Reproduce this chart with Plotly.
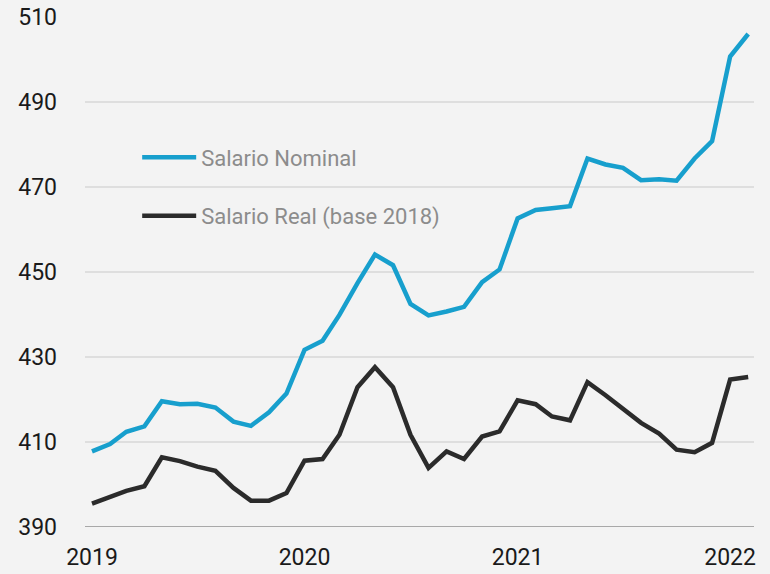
import plotly.graph_objects as go
import pandas as pd

months = pd.date_range("2019-01-01", "2022-02-01", freq="MS")

nominal = [407.8, 409.5, 412.4, 413.7, 419.6, 418.9, 419.0, 418.1, 414.8, 413.8,
           417.0, 421.4, 431.7, 433.8, 439.9, 447.4, 454.1, 451.6, 442.5, 439.8,
           440.7, 441.8, 447.6, 450.6, 462.6, 464.6, 465.0, 465.5, 476.7, 475.3,
           474.5, 471.6, 471.8, 471.5, 476.7, 480.8, 500.7, 506.0]

real = [395.5, 397.2, 398.5, 399.6, 406.4, 405.5, 404.2, 403.2, 399.2, 396.2,
        396.2, 398.0, 405.6, 406.0, 411.7, 422.9, 427.6, 422.9, 411.7, 403.9,
        407.8, 406.0, 411.3, 412.5, 419.8, 418.9, 416.0, 415.1, 424.1, 421.0,
        417.8, 414.5, 412.0, 408.2, 407.6, 409.8, 424.7, 425.3]

y_ticks = [390, 410, 430, 450, 470, 490, 510]

fig = go.Figure()
fig.add_trace(go.Scatter(x=months, y=nominal, mode="lines", name="Salario Nominal",
                         line=dict(color="#179fcd", width=4.5), legendgroup="a"))
fig.add_trace(go.Scatter(x=months, y=real, mode="lines", name="Salario Real (base 2018)",
                         line=dict(color="#2b2b2b", width=4.5), legendgroup="b"))

fig.update_layout(
    width=770, height=574,
    paper_bgcolor="#f3f3f3", plot_bgcolor="#f3f3f3",
    margin=dict(l=85, r=16, t=17, b=47, autoexpand=False),
    font=dict(family="Roboto", size=23, color="#1a1a1a"),
    showlegend=True,
    legend=dict(x=0.078, y=0.766, xanchor="left", yanchor="top",
                bgcolor="rgba(0,0,0,0)", tracegroupgap=27, itemwidth=54,
                font=dict(family="Roboto", size=22, color="#8c8c8c")),
    xaxis=dict(type="date", range=["2018-12-20", "2022-02-11"],
               tick0="2019-01-01", dtick="M12", tickformat="%Y",
               showgrid=False, zeroline=False, showline=False, automargin=False,
               ticks="", ticklabelstandoff=14),
    yaxis=dict(range=[390, 510], tickvals=y_ticks, showgrid=True, automargin=False,
               gridcolor="#dedede", gridwidth=2, zeroline=False,
               showline=False, ticks="", ticklabelstandoff=27),
)
fig.add_hline(y=390, line=dict(color="#a8a8a8", width=2), layer="below")

fig.write_html("out.html", config={"displayModeBar": False},
               post_script="document.body.style.margin='0px';document.body.style.background='#f3f3f3';")
